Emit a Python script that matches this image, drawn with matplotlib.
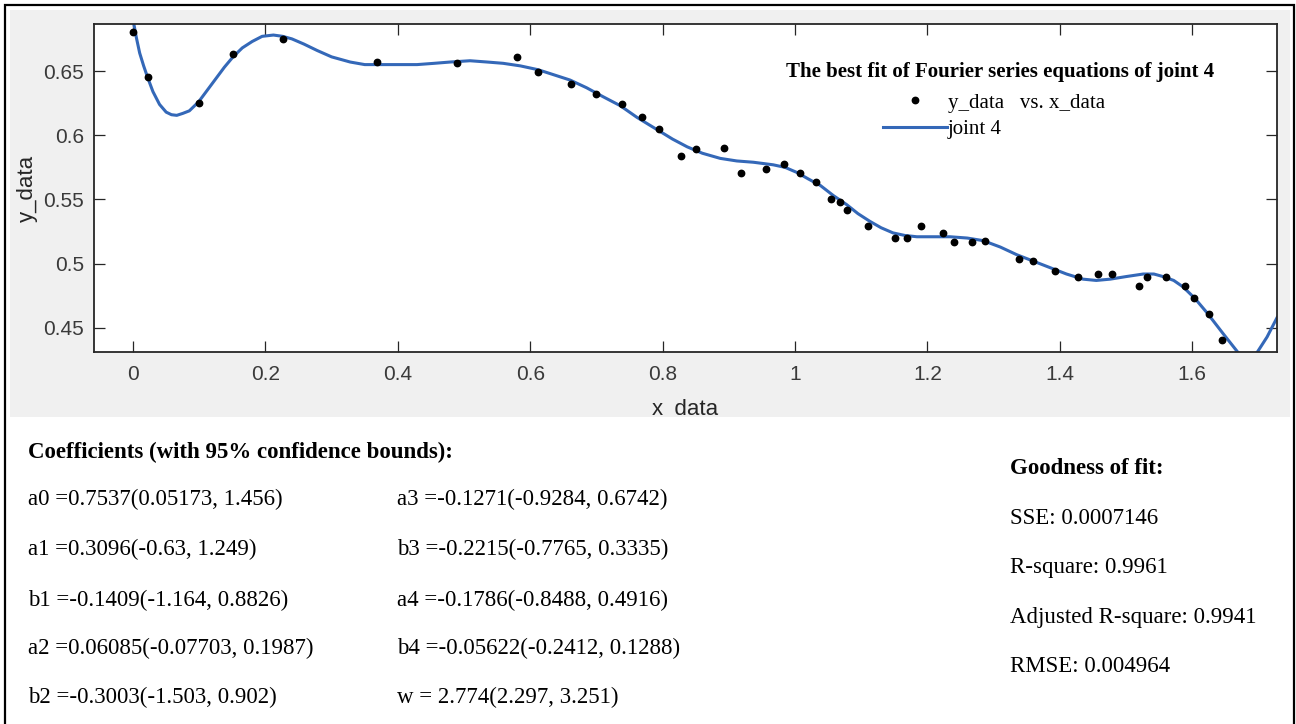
import matplotlib
matplotlib.use("Agg")
import matplotlib.pyplot as plt
from matplotlib.patches import Rectangle
from matplotlib.font_manager import FontProperties

x_data = [0.000, 0.022, 0.099, 0.151, 0.227, 0.368, 0.489, 0.580, 0.611, 0.662,
          0.699, 0.738, 0.769, 0.795, 0.828, 0.850, 0.892, 0.918, 0.956, 0.984,
          1.008, 1.032, 1.054, 1.068, 1.078, 1.110, 1.151, 1.169, 1.190, 1.224,
          1.240, 1.267, 1.287, 1.338, 1.360, 1.393, 1.428, 1.458, 1.479, 1.520,
          1.532, 1.560, 1.589, 1.603, 1.625, 1.645]
y_data = [0.680, 0.645, 0.625, 0.663, 0.675, 0.657, 0.656, 0.661, 0.649, 0.640,
          0.632, 0.624, 0.614, 0.605, 0.584, 0.589, 0.590, 0.571, 0.574, 0.578,
          0.571, 0.564, 0.550, 0.548, 0.542, 0.529, 0.520, 0.520, 0.529, 0.524,
          0.517, 0.517, 0.518, 0.504, 0.502, 0.494, 0.490, 0.492, 0.492, 0.483,
          0.490, 0.490, 0.483, 0.473, 0.461, 0.441]

# fitted curve "joint 4"
fit_x = [0.000, 0.005, 0.010, 0.016, 0.022, 0.030, 0.040, 0.050, 0.058, 0.066,
         0.075, 0.085, 0.099, 0.112, 0.125, 0.138, 0.151, 0.165, 0.180, 0.195,
         0.212, 0.226, 0.240, 0.258, 0.278, 0.300, 0.328, 0.350, 0.368, 0.400,
         0.429, 0.455, 0.479, 0.509, 0.535, 0.559, 0.585, 0.612, 0.636, 0.660,
         0.685, 0.710, 0.736, 0.761, 0.780, 0.796, 0.815, 0.837, 0.860, 0.887,
         0.912, 0.937, 0.967, 0.985, 1.003, 1.020, 1.038, 1.058, 1.078, 1.095,
         1.113, 1.130, 1.148, 1.166, 1.184, 1.210, 1.234, 1.260, 1.284, 1.310,
         1.335, 1.360, 1.385, 1.410, 1.435, 1.455, 1.476, 1.500, 1.526, 1.542,
         1.556, 1.572, 1.586, 1.604, 1.622, 1.646, 1.669, 1.684, 1.698, 1.713,
         1.728]
fit_y = [0.690, 0.676, 0.664, 0.654, 0.645, 0.634, 0.624, 0.618, 0.616, 0.6155,
         0.617, 0.619, 0.626, 0.635, 0.644, 0.653, 0.661, 0.668, 0.673, 0.677,
         0.678, 0.677, 0.675, 0.671, 0.666, 0.661, 0.657, 0.655, 0.655, 0.655,
         0.655, 0.656, 0.657, 0.658, 0.657, 0.656, 0.654, 0.651, 0.647, 0.643,
         0.637, 0.630, 0.623, 0.614, 0.608, 0.603, 0.597, 0.591, 0.586, 0.582,
         0.580, 0.579, 0.577, 0.575, 0.571, 0.566, 0.561, 0.553, 0.546, 0.539,
         0.533, 0.528, 0.524, 0.522, 0.521, 0.521, 0.521, 0.520, 0.518, 0.513,
         0.507, 0.502, 0.497, 0.492, 0.488, 0.487, 0.488, 0.490, 0.492, 0.492,
         0.490, 0.487, 0.482, 0.473, 0.462, 0.446, 0.431, 0.426, 0.431, 0.443,
         0.458]

x_ticks = [0, 0.2, 0.4, 0.6, 0.8, 1.0, 1.2, 1.4, 1.6]
x_tick_labels = ["0", "0.2", "0.4", "0.6", "0.8", "1", "1.2", "1.4", "1.6"]
y_ticks = [0.45, 0.5, 0.55, 0.6, 0.65]
y_tick_labels = ["0.45", "0.5", "0.55", "0.6", "0.65"]

coef_left = ["a0 =0.7537(0.05173, 1.456)",
             "a1 =0.3096(-0.63, 1.249)",
             "b1 =-0.1409(-1.164, 0.8826)",
             "a2 =0.06085(-0.07703, 0.1987)",
             "b2 =-0.3003(-1.503, 0.902)"]
coef_right = ["a3 =-0.1271(-0.9284, 0.6742)",
              "b3 =-0.2215(-0.7765, 0.3335)",
              "a4 =-0.1786(-0.8488, 0.4916)",
              "b4 =-0.05622(-0.2412, 0.1288)",
              "w = 2.774(2.297, 3.251)"]
goodness = ["SSE: 0.0007146",
            "R-square: 0.9961",
            "Adjusted R-square: 0.9941",
            "RMSE: 0.004964"]

W, H = 1296, 724
fig = plt.figure(figsize=(W / 100, H / 100), dpi=100)


def fx(px):
    return px / W


def fy(py):
    return 1 - py / H


serif = "Liberation Serif"
sans = "Liberation Sans"
dark = "#262626"

# gray panel behind the plot and outer frame
fig.patches.append(Rectangle((fx(10), fy(417)), fx(1280), 407 / H,
                             transform=fig.transFigure, facecolor="#f0f0f0",
                             edgecolor="none", zorder=-5))
fig.patches.append(Rectangle((fx(5), -0.01), fx(1289), fy(5) + 0.01,
                             transform=fig.transFigure, facecolor="none",
                             edgecolor="black", linewidth=1.6, zorder=10,
                             clip_on=False))
# white lower area (hides the bit of the x label below the gray panel)
fig.patches.append(Rectangle((fx(8), -0.01), fx(1284), fy(417) + 0.01,
                             transform=fig.transFigure, facecolor="white",
                             edgecolor="none", zorder=5))

ax = fig.add_axes([fx(94), fy(352), fx(1277 - 94), (352 - 24) / H])
ax.set_facecolor("white")

line, = ax.plot(fit_x, fit_y, color="#3468b8", linewidth=2.2, zorder=2)
pts, = ax.plot(x_data, y_data, "o", color="black", markersize=4.6,
               linestyle="none", zorder=3)

ax.set_xlim(-0.059, 1.728)
ax.set_ylim(0.4313, 0.6866)
ax.set_xticks(x_ticks)
ax.set_xticklabels(x_tick_labels)
ax.set_yticks(y_ticks)
ax.set_yticklabels(y_tick_labels)

ax.tick_params(direction="in", length=8, width=0.9, top=True, right=True,
               color=dark, labelcolor="#3a3a3a", labelsize=15)
ax.tick_params(axis="x", pad=9)
ax.tick_params(axis="y", pad=7)
for lab in ax.get_xticklabels() + ax.get_yticklabels():
    lab.set_fontfamily(sans)
for sp in ax.spines.values():
    sp.set_linewidth(1.3)
    sp.set_color(dark)

ax.set_xlabel("x_data", fontsize=16, fontfamily=sans, color=dark, labelpad=11)
ax.set_ylabel("y_data", fontsize=16, fontfamily=sans, color=dark, labelpad=4)

# legend with title above it
fig.text(fx(1000), fy(72), "The best fit of Fourier series equations of joint 4",
         fontsize=15, fontweight="bold", fontfamily=serif, ha="center",
         va="center", zorder=6)
ax.legend([pts, line], ["y_data   vs. x_data", "joint 4"], loc="upper left",
          bbox_to_anchor=(fx(883), fy(93)), bbox_transform=fig.transFigure,
          frameon=False, borderpad=0, borderaxespad=0, handlelength=3.07,
          handletextpad=0.05, labelspacing=0.34, numpoints=1,
          prop=FontProperties(family=serif, size=15))

# coefficient text block
fig.text(fx(28), fy(452), "Coefficients (with 95% confidence bounds):",
         fontsize=16.5, fontweight="bold", fontfamily=serif, va="center", zorder=6)
rows = [499, 549, 600, 648, 697]
for txt, r in zip(coef_left, rows):
    fig.text(fx(28), fy(r), txt, fontsize=16.5, fontfamily=serif, va="center", zorder=6)
for txt, r in zip(coef_right, rows):
    fig.text(fx(397), fy(r), txt, fontsize=16.5, fontfamily=serif, va="center", zorder=6)

fig.text(fx(1010), fy(468), "Goodness of fit:", fontsize=16.5, fontweight="bold",
         fontfamily=serif, va="center", zorder=6)
for txt, r in zip(goodness, [518, 568, 618, 667]):
    fig.text(fx(1010), fy(r), txt, fontsize=16.5, fontfamily=serif, va="center", zorder=6)

fig.savefig("out.png", dpi=100)
